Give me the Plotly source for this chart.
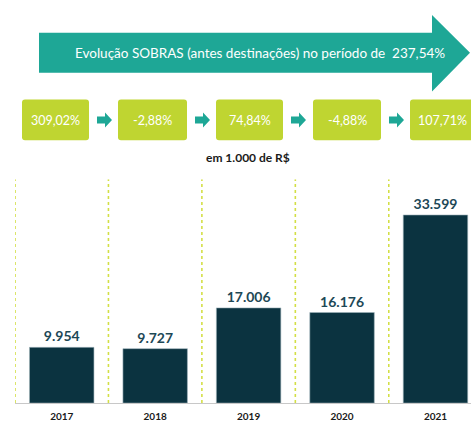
import plotly.graph_objects as go

W, H = 471, 422

years = ["2017", "2018", "2019", "2020", "2021"]
sobras = [9954, 9727, 17006, 16176, 33599]
value_labels = ["9.954", "9.727", "17.006", "16.176", "33.599"]
growth_labels = ["309,02%", "-2,88%", "74,84%", "-4,88%", "107,71%"]
headline = "Evolução SOBRAS (antes destinações) no período de  237,54%"
unit_note = "em 1.000 de R$"

FONT = "Lato"
TEAL = "#1EA796"
LIME = "#BFD531"
BAR = "#0B3340"
LABEL = "#1D4856"
DOT = "#D3DF45"


def px(x):
    return x / W


def py(y):
    return 1 - y / H


def path(points):
    return "M " + " L ".join(f"{px(x):.5f},{py(y):.5f}" for x, y in points) + " Z"


def rounded(x0, y0, x1, y1, r):
    return (f"M {px(x0 + r):.5f},{py(y0):.5f} L {px(x1 - r):.5f},{py(y0):.5f} "
            f"Q {px(x1):.5f},{py(y0):.5f} {px(x1):.5f},{py(y0 + r):.5f} "
            f"L {px(x1):.5f},{py(y1 - r):.5f} "
            f"Q {px(x1):.5f},{py(y1):.5f} {px(x1 - r):.5f},{py(y1):.5f} "
            f"L {px(x0 + r):.5f},{py(y1):.5f} "
            f"Q {px(x0):.5f},{py(y1):.5f} {px(x0):.5f},{py(y1 - r):.5f} "
            f"L {px(x0):.5f},{py(y0 + r):.5f} "
            f"Q {px(x0):.5f},{py(y0):.5f} {px(x0 + r):.5f},{py(y0):.5f} Z")


fig = go.Figure()
fig.add_trace(go.Bar(
    x=years, y=sobras, marker=dict(color=BAR, line=dict(color="#9FB4BA", width=0.6)),
    text=value_labels, textposition="outside", cliponaxis=False,
    textfont=dict(family=FONT, size=14, color=LABEL, weight="bold"),
    width=0.69, hoverinfo="skip",
))

shapes = []
shapes.append(dict(type="path", xref="paper", yref="paper",
                   path=path([(39, 33), (432, 33), (432, 15), (470, 53), (432, 92), (432, 73), (39, 73)]),
                   fillcolor=TEAL, line=dict(width=0), layer="above"))

annotations = [dict(x=px(260), y=py(53), xref="paper", yref="paper", text=headline, showarrow=False,
                    font=dict(family=FONT, size=13.5, color="white"), xanchor="center", yanchor="middle")]

box_x = [(22, 89), (118, 187), (216, 283), (313, 381), (410, 475)]
for i, (x0, x1) in enumerate(box_x):
    shapes.append(dict(type="path", xref="paper", yref="paper", path=rounded(x0, 100, x1, 141, 3),
                       fillcolor=LIME, line=dict(width=0), layer="above"))
    cx = (x0 + x1) / 2 if i < 4 else 442
    annotations.append(dict(x=px(cx), y=py(121), xref="paper", yref="paper", text=growth_labels[i],
                            showarrow=False, font=dict(family=FONT, size=12.5, color="white"),
                            xanchor="center", yanchor="middle"))
    if i < 4:
        ax = x1 + 8
        shapes.append(dict(type="path", xref="paper", yref="paper",
                           path=path([(ax, 117), (ax + 8, 117), (ax + 8, 113), (ax + 15, 120.5),
                                      (ax + 8, 128), (ax + 8, 124), (ax, 124)]),
                           fillcolor=TEAL, line=dict(width=0), layer="above"))

annotations.append(dict(x=px(248), y=py(158), xref="paper", yref="paper", text=unit_note, showarrow=False,
                        font=dict(family=FONT, size=12, color="#1a1a1a", weight="bold"),
                        xanchor="center", yanchor="middle"))

for k in range(5):
    shapes.append(dict(type="line", xref="x", yref="y", x0=k - 0.5, x1=k - 0.5, y0=0, y1=40000,
                       line=dict(color=DOT, width=1.6, dash="dot"), layer="below"))

fig.update_layout(
    width=W, height=H, margin=dict(l=0, r=0, t=0, b=0),
    paper_bgcolor="white", plot_bgcolor="white", showlegend=False,
    shapes=shapes, annotations=annotations,
    xaxis=dict(domain=[px(15), 1], range=[-0.5, 4.38], showgrid=False, zeroline=False,
               showline=True, linecolor="#C8C8C8", linewidth=1, ticks="", ticklabelstandoff=4,
               tickfont=dict(family=FONT, size=10, color="#1a1a1a", weight="bold")),
    yaxis=dict(domain=[17 / H, (H - 180) / H], range=[0, 40000], visible=False),
    font=dict(family=FONT),
)

fig.write_html("out.html", config={"displayModeBar": False},
               post_script="document.body.style.margin='0';document.body.style.overflow='hidden';")
